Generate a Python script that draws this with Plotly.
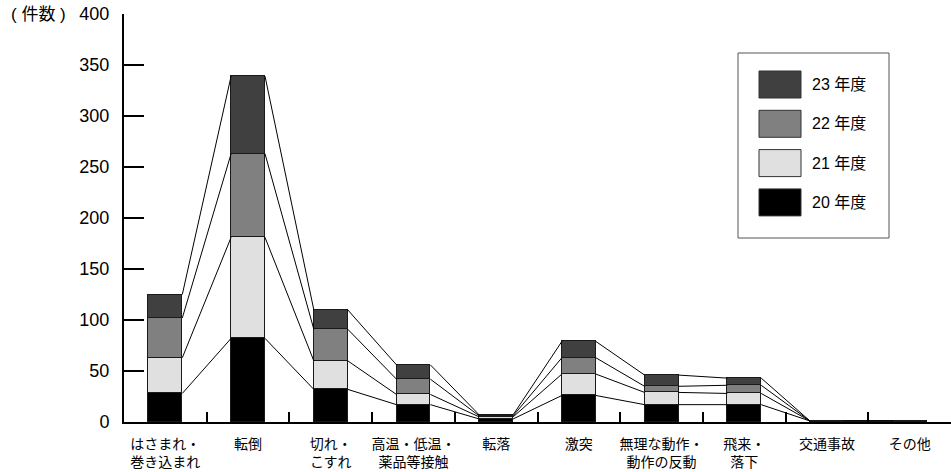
import plotly.graph_objects as go

# 事故の型別 件数（年度ごとの積み上げ）
categories = ["はさまれ・<br>巻き込まれ", "転倒", "切れ・<br>こすれ", "高温・低温・<br>薬品等接触",
              "転落", "激突", "無理な動作・<br>動作の反動", "飛来・<br>落下", "交通事故", "その他"]
fy20 = [28, 82, 32, 17, 3, 26, 17, 17, 1, 1]
fy21 = [35, 99, 28, 10, 2, 21, 12, 11, 0, 0]
fy22 = [39, 82, 31, 15, 1, 16, 6, 8, 0, 0]
fy23 = [23, 76, 19, 14, 1, 16, 11, 7, 0, 0]
series_names = ["20 年度", "21 年度", "22 年度", "23 年度"]
series_values = [fy20, fy21, fy22, fy23]
series_colors = ["#000000", "#e0e0e0", "#808080", "#404040"]
y_ticks = [0, 50, 100, 150, 200, 250, 300, 350, 400]

W, H = 951, 472
ML, MR, MT, MB = 124, 0, 14, 50
BAR_W = 0.41
n = len(categories)
pos = list(range(n))

fig = go.Figure()

for name, vals, col in zip(series_names, series_values, series_colors):
    fig.add_trace(go.Bar(
        x=pos, y=vals, name=name, width=BAR_W,
        marker=dict(color=col, line=dict(color="#1a1a1a", width=1)),
        showlegend=False, hoverinfo="skip",
    ))

# 系列線：各棒の積み上げ境界を隣の棒へ結ぶ
cum = [0] * n
for vals in series_values:
    cum = [c + v for c, v in zip(cum, vals)]
    xs, ys = [], []
    for i in range(n - 1):
        xs += [i + BAR_W / 2, i + 1 - BAR_W / 2, None]
        ys += [cum[i], cum[i + 1], None]
    fig.add_trace(go.Scatter(
        x=xs, y=ys, mode="lines", xaxis="x2",
        line=dict(color="#000000", width=1),
        showlegend=False, hoverinfo="skip",
    ))

# 凡例（枠・色見本・文字）
pw, ph = W - ML - MR, H - MT - MB


def px(x):
    return (x - ML) / pw


def py(y):
    return (H - MB - y) / ph


shapes = [dict(type="rect", xref="paper", yref="paper",
               x0=px(738), x1=px(889), y0=py(238), y1=py(53),
               line=dict(color="#555555", width=1), fillcolor="white")]
annotations = []
for k, (name, col) in enumerate(zip(series_names[::-1], series_colors[::-1])):
    top = 71 + k * 39.3
    shapes.append(dict(type="rect", xref="paper", yref="paper",
                       x0=px(759), x1=px(801), y0=py(top + 27), y1=py(top),
                       line=dict(color="#333333", width=1), fillcolor=col))
    annotations.append(dict(xref="paper", yref="paper", x=px(810), y=py(top + 13.5),
                            xanchor="left", yanchor="middle", text=name, showarrow=False,
                            font=dict(size=16, color="#000000",
                                      family="Liberation Sans, Noto Sans CJK JP")))

annotations.append(dict(xref="paper", yref="y", x=0, y=400, xshift=-56,
                        xanchor="right", yanchor="middle", text="( 件数 )", showarrow=False,
                        font=dict(size=17, color="#000000",
                                  family="Liberation Sans, Noto Sans CJK JP")))

fig.update_layout(
    width=W, height=H,
    margin=dict(l=ML, r=MR, t=MT, b=MB),
    paper_bgcolor="white", plot_bgcolor="white",
    barmode="stack", bargap=0,
    shapes=shapes, annotations=annotations,
    xaxis=dict(range=[-0.5, n - 0.5], tickvals=pos, ticktext=categories,
               ticks="", showline=True, linecolor="#000000", linewidth=2,
               showgrid=False, zeroline=False, fixedrange=True,
               ticklabelstandoff=8,
               tickfont=dict(size=14, color="#000000", family="Noto Sans CJK JP")),
    xaxis2=dict(range=[-0.5, n - 0.5], overlaying="x", anchor="y",
                tickvals=[i + 0.5 for i in range(n - 1)], ticks="inside",
                ticklen=10, tickwidth=1.5, tickcolor="#000000",
                showticklabels=False, showgrid=False, zeroline=False,
                showline=False, side="bottom"),
    yaxis=dict(range=[0, 400], tickvals=y_ticks, ticks="inside", ticklen=20,
               tickwidth=1.5, tickcolor="#000000", showline=True,
               linecolor="#000000", linewidth=2, showgrid=False, zeroline=False,
               ticklabelstandoff=9,
               tickfont=dict(size=18, color="#000000", family="Liberation Sans, Arial")),
)

fig.write_html("out.html")
